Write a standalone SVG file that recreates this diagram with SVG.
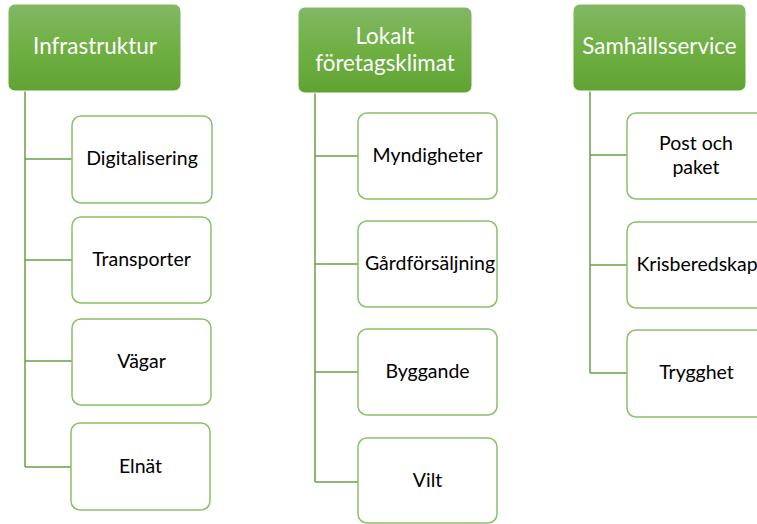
<svg xmlns="http://www.w3.org/2000/svg" width="757" height="524" viewBox="0 0 757 524">
<defs>
<linearGradient id="g" x1="0" y1="0" x2="0" y2="1">
<stop offset="0" stop-color="#82b865"/>
<stop offset="0.5" stop-color="#6fb043"/>
<stop offset="1" stop-color="#60a333"/>
</linearGradient>
<style>
.h rect{fill:url(#g);stroke:#ffffff;stroke-width:1}
.h text{fill:#ffffff;font-family:Lato,"Open Sans","Liberation Sans",sans-serif;font-size:22.4px;text-anchor:middle}
.c rect{fill:#ffffff;stroke:#8cc068;stroke-width:1.5}
.c text{fill:#000000;font-family:Lato,"Open Sans","Liberation Sans",sans-serif;font-size:19.5px;text-anchor:middle}
#conn path{fill:none;stroke:#6b9e48;stroke-width:1.5}
</style>
</defs>
<rect width="757" height="524" fill="#ffffff"/>
<g id="conn">
<path d="M25 91V467M25 159H72M25 260H72M25 361H72M25 467H72"/>
<path d="M315 93V482M315 156H358M315 264H358M315 372H358M315 482H358"/>
<path d="M590 91V373M590 155H627M590 265H627M590 373H627"/>
</g>
<g id="infrastruktur" class="h"><rect x="8" y="4" width="173" height="87" rx="7"/><text x="95" y="54">Infrastruktur</text></g>
<g id="lokalt" class="h"><rect x="298" y="7" width="174" height="86" rx="7"/><text x="385" y="44">Lokalt</text><text x="385" y="71">företagsklimat</text></g>
<g id="samhallsservice" class="h"><rect x="573" y="4" width="173" height="87" rx="7"/><text x="659.5" y="54">Samhällsservice</text></g>
<g id="digitalisering" class="c"><rect x="72" y="116" width="140" height="87" rx="9"/><text x="142" y="165">Digitalisering</text></g>
<g id="transporter" class="c"><rect x="72" y="217" width="139" height="86" rx="9"/><text x="141.5" y="266">Transporter</text></g>
<g id="vagar" class="c"><rect x="72" y="319" width="139" height="86" rx="9"/><text x="141.5" y="368">Vägar</text></g>
<g id="elnat" class="c"><rect x="71" y="423" width="139" height="87" rx="9"/><text x="140.5" y="473">Elnät</text></g>
<g id="myndigheter" class="c"><rect x="358" y="113" width="139" height="86" rx="9"/><text x="427.5" y="162">Myndigheter</text></g>
<g id="gardforsaljning" class="c"><rect x="358" y="221" width="139" height="86" rx="9"/><text x="430" y="270">Gårdförsäljning</text></g>
<g id="byggande" class="c"><rect x="358" y="329" width="139" height="86" rx="9"/><text x="427.5" y="378">Byggande</text></g>
<g id="vilt" class="c"><rect x="358" y="438" width="139" height="85" rx="9"/><text x="427.5" y="487">Vilt</text></g>
<g id="post" class="c"><rect x="627" y="113" width="139" height="86" rx="9"/><text x="696" y="150">Post och</text><text x="696" y="174">paket</text></g>
<g id="krisberedskap" class="c"><rect x="627" y="222" width="139" height="86" rx="9"/><text x="697" y="271">Krisberedskap</text></g>
<g id="trygghet" class="c"><rect x="627" y="330" width="139" height="87" rx="9"/><text x="696.5" y="379">Trygghet</text></g>
</svg>
